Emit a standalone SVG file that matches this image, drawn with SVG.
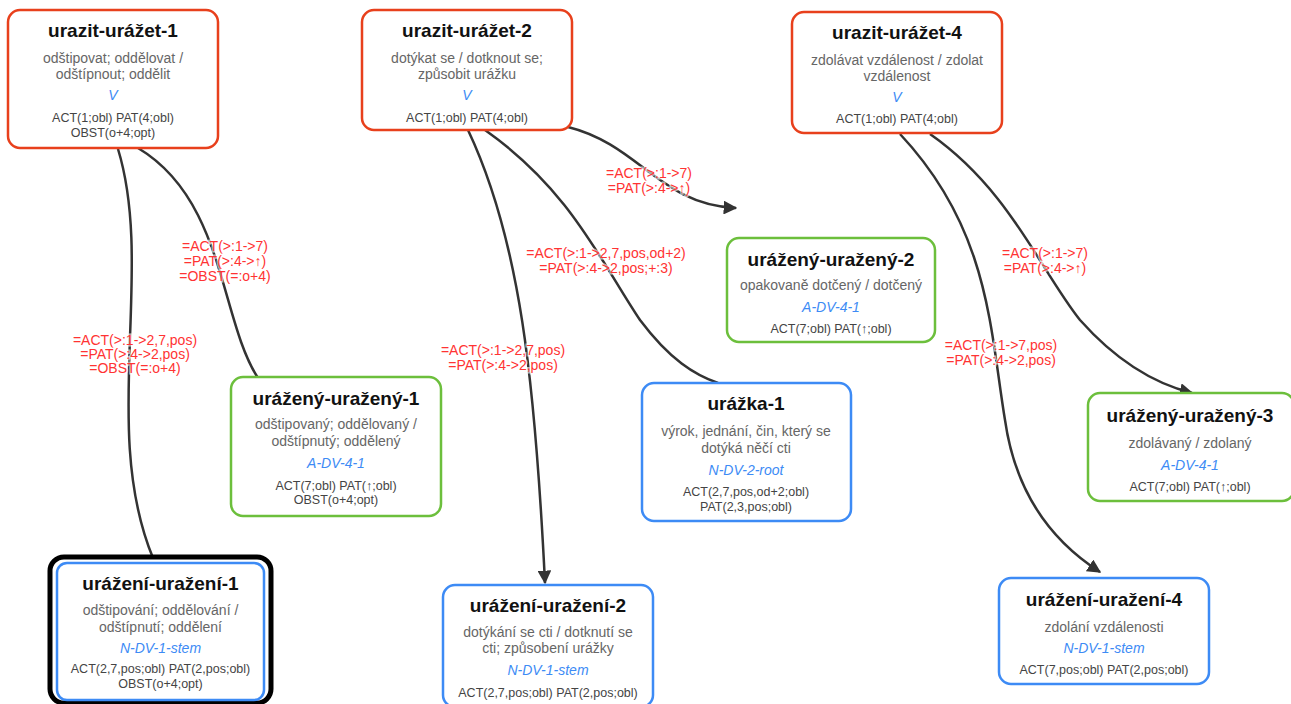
<svg xmlns="http://www.w3.org/2000/svg" width="1291" height="704" viewBox="0 0 1291 704">
<defs>
<marker id="arr" viewBox="0 0 10 10" refX="9" refY="5" markerWidth="5.5" markerHeight="5.5" markerUnits="strokeWidth" orient="auto">
<path d="M0,0 L10,5 L0,10 Z" fill="#333"/>
</marker>
<style>
text{font-family:"Liberation Sans",Arial,sans-serif;text-anchor:middle}
.box{fill:#fff;stroke-width:2.5}
.red{stroke:#e8401c}
.green{stroke:#6cbf3c}
.blue{stroke:#3d8bf5}
.t{font-size:19px;font-weight:bold;fill:#111}
.d{font-size:14px;fill:#666}
.k{font-size:14px;font-style:italic;fill:#3d8bf5}
.c{font-size:12.5px;fill:#444}
.e{fill:none;stroke:#333;stroke-width:2.5}
.l{font-size:14px;fill:#ff3333;stroke:#fff;stroke-width:3;stroke-opacity:0.6;paint-order:stroke}
</style>
</defs>
<rect width="1291" height="704" fill="#fff"/>
<g id="connectors">
<path class="e" d="M118,149 C155,270 100,430 153,558"/>
<path class="e" d="M138,148 C225,200 220,320 258,378"/>
<path class="e" d="M568,127 C640,145 660,205 736,208" marker-end="url(#arr)"/>
<path class="e" d="M468,130 C520,240 535,380 545,583" marker-end="url(#arr)"/>
<path class="e" d="M485,130 C570,190 600,260 640,320 C670,360 695,375 718,383"/>
<path class="e" d="M900,134 C990,230 990,330 1005,420 C1015,490 1050,540 1100,572" marker-end="url(#arr)"/>
<path class="e" d="M930,134 C1010,190 1040,270 1080,320 C1120,365 1160,385 1192,393" marker-end="url(#arr)"/>
<g id="edge-labels">
<text class="l" x="135" y="345">=ACT(&gt;:1-&gt;2,7,pos)</text>
<text class="l" x="135" y="359">=PAT(&gt;:4-&gt;2,pos)</text>
<text class="l" x="135" y="373">=OBST(=:o+4)</text>
<text class="l" x="225" y="251">=ACT(&gt;:1-&gt;7)</text>
<text class="l" x="225" y="266">=PAT(&gt;:4-&gt;↑)</text>
<text class="l" x="225" y="281">=OBST(=:o+4)</text>
<text class="l" x="649" y="178">=ACT(&gt;:1-&gt;7)</text>
<text class="l" x="649" y="193">=PAT(&gt;:4-&gt;↑)</text>
<text class="l" x="606" y="258">=ACT(&gt;:1-&gt;2,7,pos,od+2)</text>
<text class="l" x="606" y="273">=PAT(&gt;:4-&gt;2,pos;+:3)</text>
<text class="l" x="503" y="355">=ACT(&gt;:1-&gt;2,7,pos)</text>
<text class="l" x="503" y="370">=PAT(&gt;:4-&gt;2,pos)</text>
<text class="l" x="1045" y="258">=ACT(&gt;:1-&gt;7)</text>
<text class="l" x="1045" y="273">=PAT(&gt;:4-&gt;↑)</text>
<text class="l" x="1001" y="350">=ACT(&gt;:1-&gt;7,pos)</text>
<text class="l" x="1001" y="365">=PAT(&gt;:4-&gt;2,pos)</text>
</g>
</g>
<g id="urazit-urazet-1">
<rect class="box red" x="8" y="10" width="210" height="138" rx="12"/>
<text class="t" x="113" y="37">urazit-urážet-1</text>
<text class="d" x="113" y="63">odštipovat; oddělovat /</text>
<text class="d" x="113" y="79">odštípnout; oddělit</text>
<text class="k" x="113" y="100">V</text>
<text class="c" x="113" y="121.5">ACT(1;obl) PAT(4;obl)</text>
<text class="c" x="113" y="136.5">OBST(o+4;opt)</text>
</g>
<g id="urazit-urazet-2">
<rect class="box red" x="362" y="10" width="210" height="120" rx="12"/>
<text class="t" x="467" y="37">urazit-urážet-2</text>
<text class="d" x="467" y="63">dotýkat se / dotknout se;</text>
<text class="d" x="467" y="79">způsobit urážku</text>
<text class="k" x="467" y="100">V</text>
<text class="c" x="467" y="121.5">ACT(1;obl) PAT(4;obl)</text>
</g>
<g id="urazit-urazet-4">
<rect class="box red" x="792" y="12" width="210" height="121" rx="12"/>
<text class="t" x="897" y="39">urazit-urážet-4</text>
<text class="d" x="897" y="65">zdolávat vzdálenost / zdolat</text>
<text class="d" x="897" y="81">vzdálenost</text>
<text class="k" x="897" y="102">V</text>
<text class="c" x="897" y="123">ACT(1;obl) PAT(4;obl)</text>
</g>
<g id="urazeny-urazeny-2">
<rect class="box green" x="727" y="238" width="208" height="104" rx="12"/>
<text class="t" x="831" y="266">urážený-uražený-2</text>
<text class="d" x="831" y="290">opakovaně dotčený / dotčený</text>
<text class="k" x="831" y="312">A-DV-4-1</text>
<text class="c" x="831" y="333">ACT(7;obl) PAT(↑;obl)</text>
</g>
<g id="urazeny-urazeny-1">
<rect class="box green" x="231" y="377" width="210" height="139" rx="12"/>
<text class="t" x="336" y="405">urážený-uražený-1</text>
<text class="d" x="336" y="429">odštipovaný; oddělovaný /</text>
<text class="d" x="336" y="446">odštípnutý; oddělený</text>
<text class="k" x="336" y="468">A-DV-4-1</text>
<text class="c" x="336" y="490">ACT(7;obl) PAT(↑;obl)</text>
<text class="c" x="336" y="504">OBST(o+4;opt)</text>
</g>
<g id="urazka-1">
<rect class="box blue" x="642" y="383" width="209" height="138" rx="12"/>
<text class="t" x="746" y="410">urážka-1</text>
<text class="d" x="746" y="436">výrok, jednání, čin, který se</text>
<text class="d" x="746" y="453">dotýká něčí cti</text>
<text class="k" x="746" y="475">N-DV-2-root</text>
<text class="c" x="746" y="496">ACT(2,7,pos,od+2;obl)</text>
<text class="c" x="746" y="511">PAT(2,3,pos;obl)</text>
</g>
<g id="urazeny-urazeny-3">
<rect class="box green" x="1088" y="393" width="206" height="108" rx="12"/>
<text class="t" x="1190" y="422">urážený-uražený-3</text>
<text class="d" x="1190" y="448">zdolávaný / zdolaný</text>
<text class="k" x="1190" y="470">A-DV-4-1</text>
<text class="c" x="1190" y="491">ACT(7;obl) PAT(↑;obl)</text>
</g>
<g id="urazeni-urazeni-1">
<rect x="50" y="557" width="221" height="146" rx="14" fill="#fff" stroke="#000" stroke-width="5"/>
<rect class="box blue" x="57" y="563" width="207" height="137" rx="10"/>
<text class="t" x="160.5" y="590">urážení-uražení-1</text>
<text class="d" x="160.5" y="615">odštipování; oddělování /</text>
<text class="d" x="160.5" y="632">odštípnutí; oddělení</text>
<text class="k" x="160.5" y="653">N-DV-1-stem</text>
<text class="c" x="160.5" y="673">ACT(2,7,pos;obl) PAT(2,pos;obl)</text>
<text class="c" x="160.5" y="688">OBST(o+4;opt)</text>
</g>
<g id="urazeni-urazeni-2">
<rect class="box blue" x="443" y="585" width="210" height="122" rx="12"/>
<text class="t" x="548" y="612">urážení-uražení-2</text>
<text class="d" x="548" y="637">dotýkání se cti / dotknutí se</text>
<text class="d" x="548" y="653">cti; způsobení urážky</text>
<text class="k" x="548" y="675">N-DV-1-stem</text>
<text class="c" x="548" y="697">ACT(2,7,pos;obl) PAT(2,pos;obl)</text>
</g>
<g id="urazeni-urazeni-4">
<rect class="box blue" x="999" y="578" width="210" height="106" rx="12"/>
<text class="t" x="1104" y="606">urážení-uražení-4</text>
<text class="d" x="1104" y="632">zdolání vzdálenosti</text>
<text class="k" x="1104" y="653">N-DV-1-stem</text>
<text class="c" x="1104" y="674">ACT(7,pos;obl) PAT(2,pos;obl)</text>
</g>
</svg>
